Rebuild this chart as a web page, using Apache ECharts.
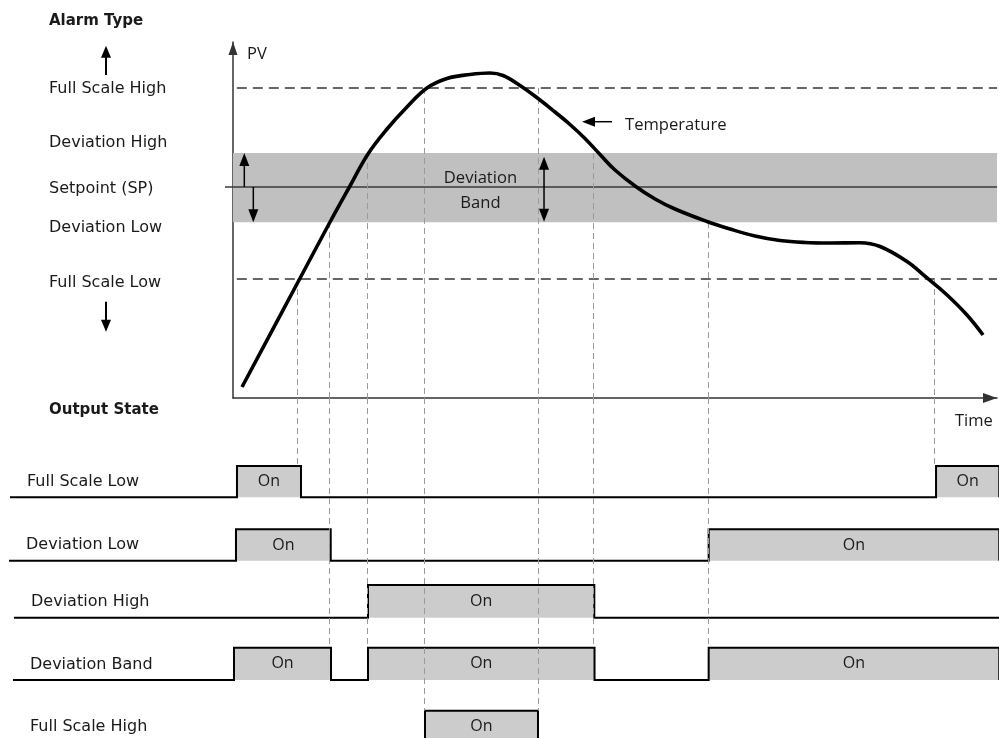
<!DOCTYPE html>
<html>
<head>
<meta charset="utf-8">
<script src="https://cdn.jsdelivr.net/npm/echarts@6/dist/echarts.min.js"></script>
<style>
html,body{margin:0;padding:0;background:#ffffff;}
#chart{width:999px;height:738px;}
</style>
</head>
<body>
<div id="chart"></div>
<script>
// ================= DATA =================
// Temperature (PV) curve: time (0..100) and PV (0..100)
const curveTime = [1.18, 8.51, 12.70, 15.31, 17.67, 20.16, 22.77, 25.39, 28.01, 31.02, 33.64, 35.34, 37.57, 40.18, 42.15, 44.11, 46.07, 48.04, 50.00, 52.62, 55.24, 57.85, 62.04, 65.05, 68.32, 71.60, 74.87, 78.14, 82.07, 84.69, 88.22, 90.84, 93.46, 96.07, 98.17];
const curvePV   = [3.09, 32.58, 49.44, 59.55, 68.54, 75.56, 81.74, 87.08, 89.75, 90.87, 91.29, 90.59, 87.78, 83.71, 80.34, 76.83, 72.89, 68.40, 64.04, 59.55, 55.90, 53.09, 49.58, 47.47, 45.51, 44.24, 43.68, 43.54, 43.62, 42.56, 38.34, 33.71, 28.93, 23.31, 17.70];

// Alarm levels (PV units)
const FULL_SCALE_HIGH = 87.1;
const DEVIATION_HIGH = 68.8;
const SETPOINT = 59.3;
const DEVIATION_LOW = 49.4;
const FULL_SCALE_LOW = 33.4;
const THRESHOLD_START = 0.5;

// Switching instants (guide lines): time, level they start from, output row they reach
const switchTimes  = [8.44, 12.57, 17.54, 25.0, 39.92, 47.12, 62.17, 91.75];
const switchLevels = [FULL_SCALE_LOW, DEVIATION_LOW, DEVIATION_HIGH, FULL_SCALE_HIGH, FULL_SCALE_HIGH, DEVIATION_HIGH, DEVIATION_LOW, FULL_SCALE_LOW];
const switchRows   = [0, 3, 3, 4, 4, 3, 3, 0];

// Output state rows: names and "On" intervals (time units)
const outputNames = ['Full Scale Low', 'Deviation Low', 'Deviation High', 'Deviation Band', 'Full Scale High'];
const onStarts = [[0.52, 92.02], [0.39, 62.26], [17.67], [0.13, 17.67, 62.26], [25.13]];
const onEnds   = [[8.90, 100.3], [12.79, 100.3], [47.29], [12.83, 47.32, 100.3], [39.92]];
const traceStarts = [-29.19, -29.32, -28.66, -28.80, -28.80];
const TRACE_END = 100.3;
const ON_TEXT = 'On';

// Alarm type column labels
const alarmTypeTitle = 'Alarm Type';
const alarmTypeLabels = ['Full Scale High', 'Deviation High', 'Setpoint (SP)', 'Deviation Low', 'Full Scale Low'];
const outputStateTitle = 'Output State';

// Arrows inside the PV chart (time/PV units)
const arrowFromTime = [1.48, 2.66, 40.71, 49.61];
const arrowFromPV   = [SETPOINT, SETPOINT, 49.52, 77.61];
const arrowToTime   = [1.48, 2.66, 40.71, 45.68];
const arrowToPV     = [DEVIATION_HIGH, DEVIATION_LOW, 67.78, 77.61];
const arrowBoth     = [0, 0, 1, 0];

// Annotations inside the PV chart
const noteTexts = ['Temperature', 'Deviation\nBand'];
const noteTime  = [51.31, 32.39];
const notePV    = [76.7, 58.2];
const noteAlign = ['left', 'center'];

// ================= LAYOUT / STYLE =================
const W = 999;
const TIME_MAX = 100, PV_MAX = 100;
const G0 = {left: 233, right: 2, top: 42, height: 356};
const pxPerTime = (W - G0.left - G0.right) / TIME_MAX;
const G1 = {top: 398, height: 340};
// output rows, in grid-1 units (1 unit = 1px below the time axis)
const rowBase = [99.3, 162.7, 219.7, 282.0, 344.7];
const rowTop  = [68.0, 131.3, 187.0, 249.7, 312.7];

const TEXT_COLOR = '#1a1a1a';
const AXIS_COLOR = '#333333';
const GUIDE_STYLE = {color: '#9a9a9a', width: 1, type: [6, 4], opacity: 1};

function arrowShapes(p1, p2, both, headLen, headW, lw, color) {
  const dx = p2[0] - p1[0], dy = p2[1] - p1[1];
  const L = Math.hypot(dx, dy) || 1;
  const ux = dx / L, uy = dy / L, nx = -uy, ny = ux;
  const head = (tip, dx_, dy_) => ({
    type: 'polygon',
    shape: {points: [
      [tip[0], tip[1]],
      [tip[0] - dx_ * headLen + nx * headW / 2, tip[1] - dy_ * headLen + ny * headW / 2],
      [tip[0] - dx_ * headLen - nx * headW / 2, tip[1] - dy_ * headLen - ny * headW / 2]
    ]},
    style: {fill: color}
  });
  const s = both ? [p1[0] + ux * headLen * 0.8, p1[1] + uy * headLen * 0.8] : p1;
  const e = [p2[0] - ux * headLen * 0.8, p2[1] - uy * headLen * 0.8];
  const out = [
    {type: 'line', shape: {x1: s[0], y1: s[1], x2: e[0], y2: e[1]}, style: {stroke: color, lineWidth: lw}},
    head(p2, ux, uy)
  ];
  if (both) out.push(head(p1, -ux, -uy));
  return out;
}

// ---- left column (static annotations) ----
const leftTextY = [89, 143.3, 189, 227.5, 282.5];
const graphics = [];
graphics.push({type: 'text', x: 49, y: 21, style: {text: alarmTypeTitle, font: 'bold 15px "DejaVu Sans"', fill: TEXT_COLOR, align: 'left', verticalAlign: 'middle'}});
alarmTypeLabels.forEach((t, i) => {
  graphics.push({type: 'text', x: 49, y: leftTextY[i], style: {text: t, font: '16px "DejaVu Sans"', fill: TEXT_COLOR, align: 'left', verticalAlign: 'middle'}});
});
graphics.push({type: 'text', x: 49, y: 410, style: {text: outputStateTitle, font: 'bold 15px "DejaVu Sans"', fill: TEXT_COLOR, align: 'left', verticalAlign: 'middle'}});
arrowShapes([106, 75], [106, 45.7], false, 12, 10, 2, '#000').forEach(g => graphics.push(g));
arrowShapes([106, 301.7], [106, 331.7], false, 12, 10, 2, '#000').forEach(g => graphics.push(g));

const chart = echarts.init(document.getElementById('chart'), null, {renderer: 'canvas'});

const option = {
  animation: false,
  backgroundColor: '#ffffff',
  grid: [
    {left: G0.left, right: G0.right, top: G0.top, height: G0.height, containLabel: false, outerBoundsMode: 'none'},
    {left: 0, right: 0, top: G1.top, height: G1.height, containLabel: false, outerBoundsMode: 'none'}
  ],
  xAxis: [
    {
      gridIndex: 0, type: 'value', min: 0, max: TIME_MAX,
      name: 'Time', nameLocation: 'end', nameGap: -42, nameMoveOverlap: false,
      nameTextStyle: {fontFamily: 'Open Sans', fontSize: 16.5, color: TEXT_COLOR, align: 'left', verticalAlign: 'top', padding: [15, 0, 0, 0]},
      axisLine: {show: true, onZero: false, symbol: ['none', 'triangle'], symbolSize: [10, 14], symbolOffset: [0, -7], lineStyle: {color: AXIS_COLOR, width: 1.5}},
      axisTick: {show: false}, axisLabel: {show: false}, splitLine: {show: false}
    },
    {gridIndex: 1, type: 'value', min: -G0.left / pxPerTime, max: TIME_MAX + G0.right / pxPerTime, show: false}
  ],
  yAxis: [
    {
      gridIndex: 0, type: 'value', min: 0, max: PV_MAX,
      name: 'PV', nameLocation: 'end', nameGap: -12, nameMoveOverlap: false,
      nameTextStyle: {fontFamily: 'Open Sans', fontSize: 16.5, color: TEXT_COLOR, align: 'left', verticalAlign: 'middle', padding: [0, 0, 0, 14]},
      axisLine: {show: true, onZero: false, symbol: ['none', 'triangle'], symbolSize: [9, 13], symbolOffset: [0, -6.5], lineStyle: {color: AXIS_COLOR, width: 1.5}},
      axisTick: {show: true, customValues: [SETPOINT], length: 8, lineStyle: {color: '#3a3a3a', width: 1.5}},
      axisLabel: {show: false}, splitLine: {show: false}
    },
    {gridIndex: 1, type: 'value', min: 0, max: G1.height, inverse: true, show: false}
  ],
  graphic: graphics,
  series: [
    {
      name: 'Setpoint', type: 'line', xAxisIndex: 0, yAxisIndex: 0, z: 1, silent: true,
      data: [[0, SETPOINT], [TIME_MAX, SETPOINT]], symbol: 'none', showSymbol: false,
      lineStyle: {color: '#3a3a3a', width: 1.5},
      markArea: {silent: true, itemStyle: {color: '#c0c0c0'}, data: [[{yAxis: DEVIATION_LOW}, {yAxis: DEVIATION_HIGH}]]}
    },
    {
      name: 'Full Scale High', type: 'line', xAxisIndex: 0, yAxisIndex: 0, z: 2, silent: true,
      data: [[THRESHOLD_START, FULL_SCALE_HIGH], [TIME_MAX, FULL_SCALE_HIGH]], symbol: 'none', showSymbol: false,
      lineStyle: {color: '#333333', width: 1.5, type: [10, 6]}
    },
    {
      name: 'Full Scale Low', type: 'line', xAxisIndex: 0, yAxisIndex: 0, z: 2, silent: true,
      data: [[THRESHOLD_START, FULL_SCALE_LOW], [TIME_MAX, FULL_SCALE_LOW]], symbol: 'none', showSymbol: false,
      lineStyle: {color: '#333333', width: 1.5, type: [10, 6]}
    },
    {
      name: 'Guides upper', type: 'lines', coordinateSystem: 'cartesian2d', xAxisIndex: 0, yAxisIndex: 0, z: 3, silent: true,
      data: switchTimes.map((t, i) => ({coords: [[t, switchLevels[i]], [t, 0]]})),
      lineStyle: GUIDE_STYLE
    },
    {
      name: 'Output states', type: 'custom', coordinateSystem: 'cartesian2d', xAxisIndex: 1, yAxisIndex: 1, z: 2, silent: true,
      data: outputNames.map((n, i) => [traceStarts[i], rowBase[i], i]),
      renderItem: function (params, api) {
        const i = api.value(2);
        const base = rowBase[i], top = rowTop[i];
        const children = [];
        onStarts[i].forEach((s, k) => {
          const p0 = api.coord([s, top]);
          const p1 = api.coord([onEnds[i][k], base]);
          children.push({type: 'rect', shape: {x: p0[0], y: p0[1], width: p1[0] - p0[0], height: p1[1] - p0[1]}, style: {fill: '#cccccc'}});
          children.push({type: 'text', x: (p0[0] + p1[0]) / 2, y: (p0[1] + p1[1]) / 2,
            style: {text: ON_TEXT, font: '16px "Open Sans"', fill: TEXT_COLOR, align: 'center', verticalAlign: 'middle'}});
        });
        const pts = [api.coord([traceStarts[i], base])];
        onStarts[i].forEach((s, k) => {
          pts.push(api.coord([s, base]), api.coord([s, top]), api.coord([onEnds[i][k], top]), api.coord([onEnds[i][k], base]));
        });
        pts.push(api.coord([TRACE_END, base]));
        children.push({type: 'polyline', shape: {points: pts}, style: {stroke: '#000000', lineWidth: 2, fill: null, lineJoin: 'miter'}});
        const lp = api.coord([traceStarts[i], base]);
        children.push({type: 'text', x: lp[0] + 17, y: lp[1] - 15.5,
          style: {text: outputNames[i], font: '16px "DejaVu Sans"', fill: TEXT_COLOR, align: 'left', verticalAlign: 'middle'}});
        return {type: 'group', children: children};
      }
    },
    {
      name: 'Guides lower', type: 'lines', coordinateSystem: 'cartesian2d', xAxisIndex: 1, yAxisIndex: 1, z: 3, silent: true,
      data: switchTimes.map((t, i) => ({coords: [[t, 0], [t, rowTop[switchRows[i]]]]})),
      lineStyle: GUIDE_STYLE
    },
    {
      name: 'Temperature', type: 'line', xAxisIndex: 0, yAxisIndex: 0, z: 5, silent: true,
      data: curveTime.map((t, i) => [t, curvePV[i]]), smooth: 0.4, symbol: 'none', showSymbol: false,
      lineStyle: {color: '#000000', width: 3.6}
    },
    {
      name: 'Arrows', type: 'custom', coordinateSystem: 'cartesian2d', xAxisIndex: 0, yAxisIndex: 0, z: 6, silent: true,
      data: arrowFromTime.map((t, i) => [t, arrowFromPV[i], arrowToTime[i], arrowToPV[i], arrowBoth[i]]),
      renderItem: function (params, api) {
        const p1 = api.coord([api.value(0), api.value(1)]);
        const p2 = api.coord([api.value(2), api.value(3)]);
        return {type: 'group', children: arrowShapes(p1, p2, api.value(4) === 1, 13, 10, 1.5, '#000000')};
      }
    },
    {
      name: 'Notes', type: 'custom', coordinateSystem: 'cartesian2d', xAxisIndex: 0, yAxisIndex: 0, z: 6, silent: true,
      data: noteTime.map((t, i) => [t, notePV[i], i]),
      renderItem: function (params, api) {
        const i = api.value(2);
        const p = api.coord([api.value(0), api.value(1)]);
        return {type: 'text', x: p[0], y: p[1],
          style: {text: noteTexts[i], font: '16.6px "Open Sans"', lineHeight: 25, fill: TEXT_COLOR, align: noteAlign[i], verticalAlign: 'middle'}};
      }
    }
  ]
};
chart.setOption(option);
</script>
</body>
</html>
